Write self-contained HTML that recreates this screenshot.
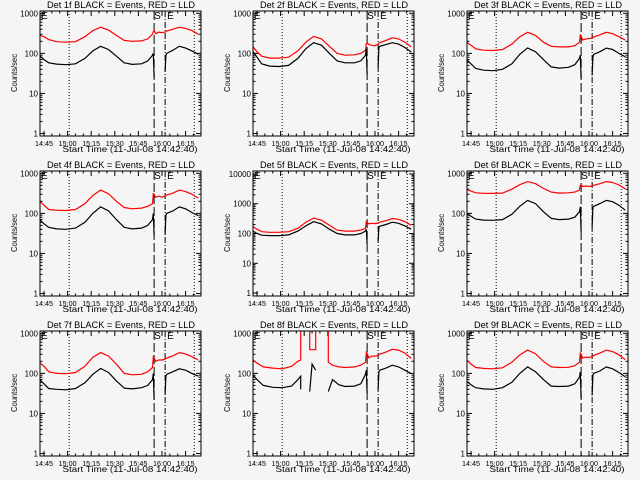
<!DOCTYPE html>
<html><head><meta charset="utf-8">
<style>
html,body{margin:0;padding:0;background:#f5f5f5;}
svg{display:block;font-family:"Liberation Sans",sans-serif;}
</style></head>
<body>
<svg id="chart" width="640" height="480" viewBox="0 0 640 480" xmlns="http://www.w3.org/2000/svg">
<rect x="0" y="0" width="640" height="480" fill="#f5f5f5"/>
</svg>
<script>
// ---- data ----
const T = [-2.5,0,3,8,14,20,26,31,36,41,46,51,56,62,66,69,69.5,70,71,73,75,77,77.5,78,82,86,90,94,98];
const T8 = [-2.5,0,4,10,16,22,26,27.8,27.8,33.5,33.5,35,37.3,37.3,45.3,45.3,48,52,56,62,66,69,69.5,70,71,73,75,77,77.5,78,82,86,90,94,98];
const detNames = ["1f","2f","3f","4f","5f","6f","7f","8f","9f"];
const black1 = [85,70,58,54,52,55,75,115,150,125,85,58,53,55,65,90,100,25,null,null,null,35,90,100,120,150,135,115,95];
const red1   = [280,260,220,195,190,195,260,370,450,380,280,210,200,205,230,300,350,370,310,340,330,340,350,360,400,450,420,370,300];
const black2 = [110,80,55,48,47,50,75,130,185,160,100,65,58,58,65,90,130,30,null,null,null,45,140,150,165,185,170,140,108];
const red2   = [145,110,85,76,76,80,115,190,265,230,150,100,90,92,100,120,175,185,165,160,155,170,180,185,210,245,230,190,145];
const black3 = [68,55,42,38,37,40,55,95,137,110,70,46,43,45,52,75,90,24,null,null,null,28,80,95,110,135,125,100,82];
const red3   = [185,160,130,120,118,125,170,260,335,280,190,150,145,145,155,190,285,270,215,230,235,240,250,255,290,335,310,260,215];
const black4 = [68,55,45,41,40,43,60,100,145,115,70,45,41,43,50,70,100,28,null,null,null,30,90,100,115,145,130,105,88];
const red4   = [195,160,125,120,118,125,175,280,380,310,200,140,130,135,150,175,310,300,250,270,255,270,280,285,320,380,350,300,240];
const black5 = [120,100,88,85,85,90,120,180,250,210,140,100,90,90,100,120,140,45,null,null,null,55,160,175,200,240,220,180,140];
const red5   = [170,140,115,110,110,115,150,240,330,280,190,130,120,120,130,150,250,240,210,220,215,225,235,240,270,320,300,250,190];
const black6 = [100,85,72,68,67,70,95,150,210,175,110,75,70,72,80,110,145,35,null,null,null,45,140,150,175,210,195,160,120];
const red6   = [395,360,325,316,315,320,400,520,620,550,420,340,320,325,340,380,500,510,470,480,470,480,490,500,550,620,590,510,410];
const black7 = [68,55,42,40,39,42,58,95,133,105,65,43,41,44,50,70,100,22,null,null,null,30,85,95,110,130,120,100,85];
const red7   = [180,150,110,100,98,105,150,250,330,270,170,100,92,95,110,140,255,240,200,215,215,225,235,240,275,330,305,260,215];
const black8 = [90,70,50,45,44,48,70,85,40,null,35,170,120,null,null,35,70,52,47,48,55,95,120,32,null,null,null,40,110,120,135,160,145,120,98];
const red8   = [215,180,145,135,130,150,200,215,1500,1500,390,390,390,1500,1500,190,160,145,140,145,160,190,335,320,245,270,270,280,290,300,340,400,380,320,235];
const black9 = [62,52,44,41,40,44,60,100,145,110,70,48,47,48,55,80,108,24,null,null,null,28,90,100,115,145,130,105,82];
const red9   = [210,170,140,133,130,138,190,290,380,310,200,145,140,142,155,190,320,300,240,255,250,260,270,280,320,380,350,290,220];
const xTickLabels = ["14:45","15:00","15:15","15:30","15:45","16:00","16:15"];
const xTickMinutes = [0,15,30,45,60,75,90];
const dottedMinutes = [16,95.5];
const dashedMinutes = [70,77];

const blacks=[black1,black2,black3,black4,black5,black6,black7,black8,black9];
const reds=[red1,red2,red3,red4,red5,red6,red7,red8,red9];
const NS="http://www.w3.org/2000/svg";
const svg=document.getElementById('chart');
function mk(tag,attrs,parent){const e=document.createElementNS(NS,tag);for(const k in attrs)e.setAttribute(k,attrs[k]);(parent||svg).appendChild(e);return e;}

for(let p=0;p<9;p++){
  const col=p%3,row=Math.floor(p/3);
  const ox=Math.round(col*213.33), oy=row*160;
  const L=ox+40,R=ox+201,TP=oy+11,B=oy+136;
  const maxDec = (p===4)?4:3;
  const lo=(p===4)?-0.1:-0.062, hi=(p===4)?4.1:3.057;
  const xs=m=>L+(m+2.54)*(R-L)/(99.8+2.54);
  const ys=v=>B-(Math.log10(v)-lo)*(B-TP)/(hi-lo);
  const g=mk('g',{});
  
  
  const cid='clip'+p;
  const cp=mk('clipPath',{id:cid},g);mk('rect',{x:L,y:TP,width:R-L,height:B-TP},cp);
  // title
  const t=mk('text',{x:ox+121,y:oy+8,'font-size':9,'text-anchor':'middle',textLength:148,lengthAdjust:'spacingAndGlyphs',fill:'#000'},g);
  t.textContent='Det '+detNames[p]+' BLACK = Events, RED = LLD';
  
  
  // y ticks
  for(let d=0;d<=maxDec;d++){
    const y=ys(Math.pow(10,d));
    mk('line',{x1:L,x2:L+5,y1:y,y2:y,stroke:'#000','stroke-width':1},g);
    mk('line',{x1:R-5,x2:R,y1:y,y2:y,stroke:'#000','stroke-width':1},g);
    const lb=mk('text',{x:L-2,y:y+3,'font-size':8,'text-anchor':'end',fill:'#000'},g);
    lb.textContent=String(Math.pow(10,d));
    
    
    for(let k=2;k<10;k++){const v=k*Math.pow(10,d);const yy=ys(v);if(yy<TP)break;
      mk('line',{x1:L,x2:L+2.5,y1:yy,y2:yy,stroke:'#000','stroke-width':1},g);
      mk('line',{x1:R-2.5,x2:R,y1:yy,y2:yy,stroke:'#000','stroke-width':1},g);}
  }
  // x ticks
  xTickMinutes.forEach((m,i)=>{const x=xs(m);
    mk('line',{x1:x,x2:x,y1:B,y2:B-5,stroke:'#000','stroke-width':1},g);
    mk('line',{x1:x,x2:x,y1:TP,y2:TP+5,stroke:'#000','stroke-width':1},g);
    const lb=mk('text',{x:x,y:B+10,'font-size':7.5,'text-anchor':'middle',textLength:18,lengthAdjust:'spacingAndGlyphs',fill:'#000'},g);
    lb.textContent=xTickLabels[i];
    
    
  });
  for(let m=-0;m<=99;m+=5){if(m%15===0)continue;const x=xs(m);
    mk('line',{x1:x,x2:x,y1:B,y2:B-2.5,stroke:'#000','stroke-width':1},g);
    mk('line',{x1:x,x2:x,y1:TP,y2:TP+2.5,stroke:'#000','stroke-width':1},g);}
  const xt=mk('text',{x:ox+130,y:oy+152,'font-size':8,'text-anchor':'middle',textLength:135,lengthAdjust:'spacingAndGlyphs',fill:'#000'},g);
  xt.textContent='Start Time (11-Jul-08 14:42:40)';
  
  
  const yt=mk('text',{x:0,y:0,'font-size':8,'text-anchor':'middle',textLength:38,lengthAdjust:'spacingAndGlyphs',fill:'#000',transform:`translate(${ox+17},${oy+73}) rotate(-90)`},g);
  yt.textContent='Counts/sec';
  
  
  // reference lines
  dottedMinutes.forEach(m=>{const x=xs(m);const l=mk('line',{x1:x,x2:x,y1:TP,y2:B,stroke:'#000','stroke-width':1,'stroke-dasharray':'1,2'},g);
    });
  const d1=mk('line',{x1:xs(dashedMinutes[0]),x2:xs(dashedMinutes[0]),y1:TP,y2:B,stroke:'#000','stroke-width':1,'stroke-dasharray':'9,3'},g);
  
  const d2=mk('line',{x1:xs(dashedMinutes[1]),x2:xs(dashedMinutes[1]),y1:TP,y2:B,stroke:'#000','stroke-width':1,'stroke-dasharray':'6,2,1,2'},g);
  
  // series
  const tt=(p===7)?T8:T;
  [[reds[p],'#ff0000','red-lld-series'],[blacks[p],'#000000','black-events-series']].forEach(([arr,c,nm])=>{
    let segs=[],cur=[];
    arr.forEach((v,i)=>{if(v===null){if(cur.length)segs.push(cur);cur=[];}else cur.push(xs(tt[i]).toFixed(1)+','+ys(v).toFixed(1));});
    if(cur.length)segs.push(cur);
    segs.forEach(s=>{const pl=mk('polyline',{points:s.join(' '),fill:'none',stroke:c,'stroke-width':1.2,'clip-path':`url(#${cid})`},g);
      });
  });
  // axis box
  const bx=mk('rect',{x:L,y:TP,width:R-L,height:B-TP,fill:'none',stroke:'#000','stroke-width':1},g);
  
  // letters
  [['E',L+1],['S',xs(dashedMinutes[0])],['E',xs(dashedMinutes[1])+2]].forEach(([ch,x])=>{
    const tx=mk('text',{x:x,y:TP+8,'font-size':10,fill:'#000'},g);tx.textContent=ch;
    });
}
</script>
</body></html>
